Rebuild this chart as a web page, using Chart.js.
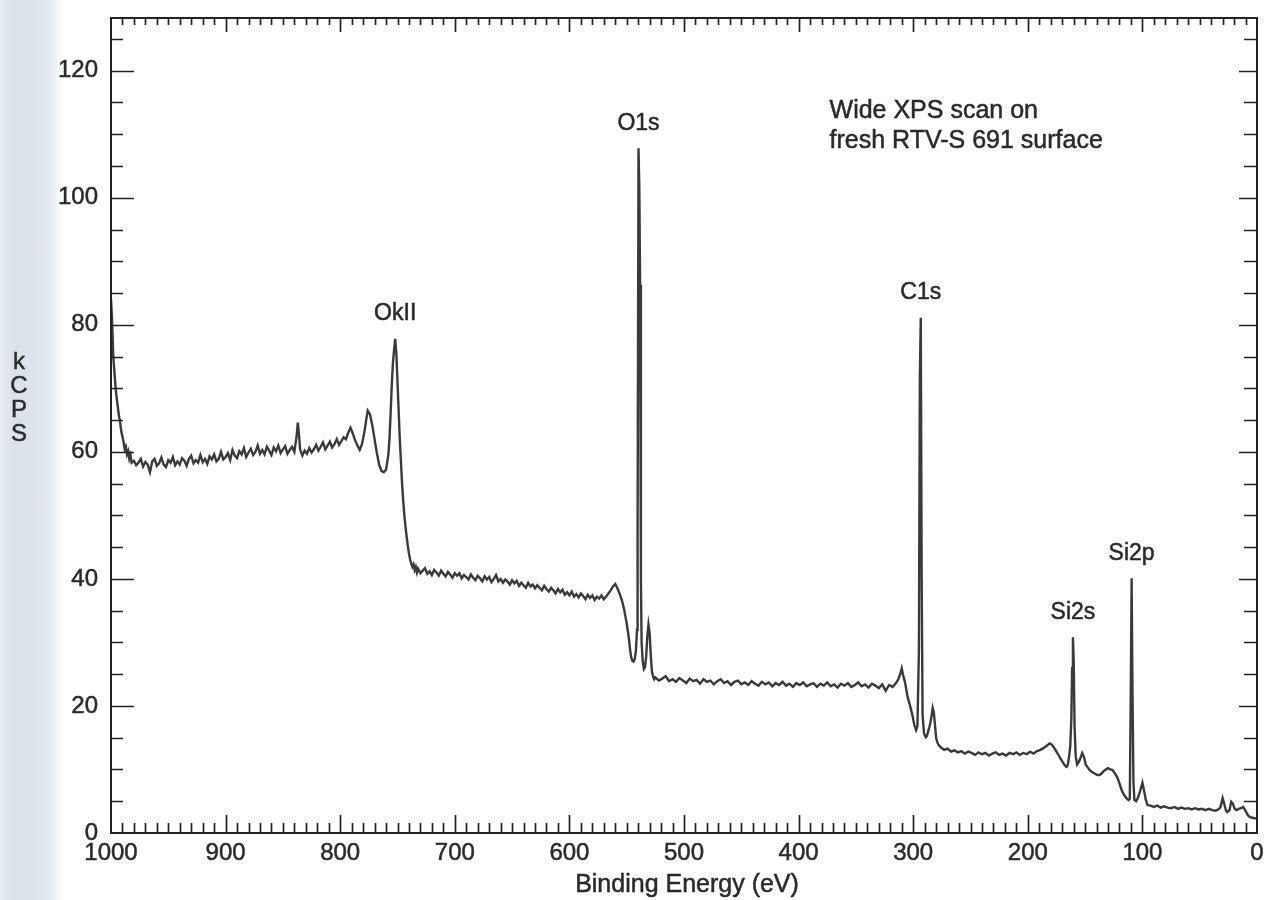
<!DOCTYPE html>
<html>
<head>
<meta charset="utf-8">
<title>Wide XPS scan – RTV-S 691</title>
<script src="https://cdn.jsdelivr.net/npm/chart.js@4.4.1/dist/chart.umd.min.js"></script>
<style>
  html, body { margin: 0; padding: 0; }
  body {
    width: 1269px;
    height: 900px;
    overflow: hidden;
    /* scanned page edge on the left */
    background: linear-gradient(to right, #e8ecf2 0px, #dbe1e9 14px, #e1e6ee 48px, #f6f7fa 58px, #ffffff 64px);
  }
  #wrap { position: relative; width: 1269px; height: 900px; }
</style>
</head>
<body>
<div id="wrap"><canvas id="xps" width="1269" height="900"></canvas></div>
<script>
// Wide XPS survey of a fresh RTV-S 691 surface: counts (kCPS) vs binding energy (eV).
// Points are [binding energy, kCPS]; sampled densely around the core-level peaks.

const highEnergyTail = [
  [1000, 84.0], [999, 80.5], [998, 75.0], [997, 72.5], [996, 70.2], [995, 68.4], [994, 67.0],
  [993, 65.6], [992, 64.6], [991, 63.2], [990, 62.4], [989, 61.5], [988, 60.4], [987, 60.8],
  [986, 59.6], [985, 60.1], [984, 58.9], [983, 59.5], [982, 58.3], [980, 58.6], [978, 57.9],
  [976, 58.3], [974, 58.9], [972, 57.7], [970, 58.4], [968, 58.0], [966, 56.8], [964, 58.5],
  [962, 58.9], [960, 57.8], [958, 58.2], [956, 59.1], [954, 58.0], [952, 57.6], [950, 58.7],
  [948, 58.3], [946, 59.2], [944, 57.9], [942, 58.5], [940, 58.0], [938, 59.0], [936, 58.6],
  [934, 57.8], [932, 58.9], [930, 59.4], [928, 58.2], [926, 58.7], [924, 58.3], [922, 59.5],
  [920, 58.4], [918, 58.9], [916, 58.1], [914, 59.3], [912, 58.8], [910, 59.6], [908, 58.5],
  [906, 58.9], [904, 60.0], [902, 58.8], [900, 59.2], [898, 59.8], [896, 58.7], [894, 60.3],
  [892, 59.4], [890, 59.0], [888, 60.1], [886, 59.6], [884, 60.6], [882, 59.2], [880, 59.9],
  [878, 60.5], [876, 59.5], [874, 60.0], [872, 61.0], [870, 59.7], [868, 60.3], [866, 59.6],
  [864, 60.8], [862, 60.2], [860, 59.5], [858, 60.7], [856, 60.1], [854, 61.0], [852, 59.8],
  [850, 60.4], [848, 60.9], [846, 59.7], [844, 60.3], [842, 60.8], [840, 60.0], [838, 62.5],
  [837, 64.6], [836, 62.8], [835, 60.4], [833, 59.4], [831, 60.2], [829, 59.7], [827, 60.6],
  [825, 59.9], [823, 60.4], [821, 61.1], [819, 60.2], [817, 60.8], [815, 61.5], [813, 60.4],
  [811, 61.0], [809, 61.6], [807, 60.7], [805, 61.2], [803, 62.0], [801, 61.1], [799, 61.7],
  [797, 62.3], [795, 62.0], [793, 63.0], [791, 63.8], [789, 62.9], [787, 61.8], [785, 61.0],
  [783, 60.3], [781, 61.2], [779, 63.0], [777, 65.4], [776, 66.5], [774, 65.9], [772, 64.2],
  [770, 62.0], [768, 59.8], [766, 58.0], [764, 57.0], [762, 56.8], [760, 57.2], [758, 59.5],
  [757, 62.0], [756, 66.0], [755, 70.5], [754, 74.0], [753, 76.0], [752, 77.8], [751, 75.5],
  [750, 71.0], [749, 66.5], [748, 62.0], [747, 58.5], [746, 55.0], [745, 52.2], [744, 50.0],
  [743, 48.2], [742, 46.6], [741, 45.2], [740, 44.0], [739, 43.1], [738, 42.4], [737, 41.9],
  [736, 42.3], [735, 41.4], [734, 41.9], [733, 41.0]
];

const midPlateau = [
  [732, 41.6], [730, 40.9], [728, 41.3], [726, 41.7], [724, 40.8], [722, 41.2], [720, 40.6],
  [718, 41.4], [716, 41.0], [714, 40.5], [712, 41.3], [710, 40.8], [708, 40.4], [706, 41.1],
  [704, 40.7], [702, 40.2], [700, 40.9], [698, 40.5], [696, 40.9], [694, 40.1], [692, 40.6],
  [690, 40.3], [688, 39.9], [686, 40.7], [684, 40.2], [682, 39.8], [680, 40.5], [678, 40.1],
  [676, 39.6], [674, 40.4], [672, 39.9], [670, 40.3], [668, 39.5], [666, 40.0], [664, 40.6],
  [662, 39.6], [660, 40.0], [658, 39.4], [656, 39.9], [654, 39.6], [652, 39.1], [650, 39.8],
  [648, 39.3], [646, 39.7], [644, 38.9], [642, 39.4], [640, 39.0], [638, 38.6], [636, 39.4],
  [634, 38.8], [632, 39.1], [630, 38.5], [628, 39.0], [626, 38.6], [624, 38.2], [622, 38.9],
  [620, 38.4], [618, 38.0], [616, 38.6], [614, 38.2], [612, 37.7], [610, 38.4], [608, 37.9],
  [606, 38.3], [604, 37.5], [602, 37.9], [600, 37.4], [598, 38.0], [596, 37.2], [594, 37.6],
  [592, 37.1], [590, 37.7], [588, 37.3], [586, 36.8], [584, 37.5], [582, 37.0], [580, 37.4],
  [578, 36.7], [576, 37.2], [574, 36.9], [572, 37.4], [570, 36.8], [568, 37.2], [566, 37.7],
  [564, 38.2], [562, 38.8], [560, 39.2], [558, 38.5], [556, 37.6], [554, 36.5], [552, 35.0],
  [550, 33.0], [548, 30.5], [547, 28.8], [546, 27.6], [545, 27.1], [544, 27.0], [543, 27.4],
  [542, 28.6], [541, 32.0], [540.5, 47.0], [539.7, 107.8], [539, 101.7], [538.3, 86.3],
  [537.6, 40.0], [537, 30.0], [536, 27.0], [535, 25.8], [534, 26.1], [533, 27.8], [532, 31.0],
  [531, 32.8], [530, 31.5], [529, 28.0], [528, 25.5], [527, 24.6], [526, 24.2]
];

const lowPlateau = [
  [525, 24.5], [522, 24.0], [519, 24.3], [516, 24.7], [513, 23.9], [510, 24.2], [507, 23.8],
  [504, 24.4], [501, 24.0], [498, 23.6], [495, 24.3], [492, 23.9], [489, 24.1], [486, 23.5],
  [483, 24.2], [480, 23.8], [477, 24.0], [474, 23.4], [471, 23.9], [468, 24.2], [465, 23.6],
  [462, 23.9], [459, 23.3], [456, 23.8], [453, 24.0], [450, 23.4], [447, 23.7], [444, 23.3],
  [441, 23.9], [438, 23.5], [435, 23.2], [432, 23.8], [429, 23.4], [426, 23.7], [423, 23.1],
  [420, 23.6], [417, 23.3], [414, 23.8], [411, 23.2], [408, 23.5], [405, 23.0], [402, 23.6],
  [399, 23.3], [396, 23.7], [393, 23.1], [390, 23.4], [387, 23.6], [384, 23.0], [381, 23.5],
  [378, 23.2], [375, 23.7], [372, 23.1], [369, 23.4], [366, 22.9], [363, 23.5], [360, 23.2],
  [357, 23.6], [354, 23.0], [351, 23.3], [348, 23.7], [345, 23.1], [342, 23.4], [339, 22.9],
  [336, 23.5], [333, 23.2], [330, 22.8], [327, 23.4], [324, 22.4], [321, 23.3], [318, 23.0],
  [315, 23.6], [313, 24.2], [311, 25.2], [310, 25.9], [309, 25.0], [307, 23.6], [305, 21.5],
  [303, 20.2], [301, 18.8], [299, 17.0], [297.5, 16.2], [296.3, 16.8], [295, 29.0],
  [294.2, 71.7], [293.4, 81.1], [292.6, 40.0], [291.8, 18.5], [290.5, 15.6], [289, 15.1],
  [288, 15.3], [287, 16.0], [286, 16.6], [285, 17.4], [284, 18.4], [283, 19.7], [282, 19.0],
  [281, 17.0], [280, 15.0], [279, 14.3], [278, 13.9], [277, 13.7]
];

const siliconRegion = [
  [276, 13.5], [273, 13.1], [270, 13.3], [267, 12.8], [264, 13.0], [261, 12.7], [258, 12.9],
  [255, 12.5], [252, 12.8], [249, 12.6], [246, 12.3], [243, 12.7], [240, 12.4], [237, 12.6],
  [234, 12.2], [231, 12.5], [228, 12.7], [225, 12.3], [222, 12.5], [219, 12.2], [216, 12.6],
  [213, 12.4], [210, 12.7], [207, 12.3], [204, 12.6], [201, 12.4], [198, 12.8], [195, 12.5],
  [192, 12.9], [189, 13.1], [186, 13.4], [183, 13.8], [181, 14.1], [179, 13.9], [177, 13.4],
  [175, 12.8], [173, 12.2], [171, 11.6], [169, 11.0], [167, 10.5], [166, 10.4], [165, 10.8],
  [164, 12.0], [163, 13.5], [162, 18.0], [161.3, 26.0], [160.6, 30.8], [159.9, 26.7],
  [159.2, 16.8], [158.2, 12.1], [157, 10.8], [155.5, 11.2], [154, 11.8], [152.5, 12.6],
  [151, 12.0], [149.5, 10.8], [148, 10.4], [146, 9.9], [144, 9.6], [142, 9.4], [140, 9.2],
  [138, 9.1], [136, 9.3], [134, 9.7], [132, 10.0], [130, 10.2], [128, 10.0], [126, 9.9],
  [124, 9.4], [122, 8.8], [120, 7.8], [118, 6.7], [116, 6.0], [114, 5.5], [112, 5.2],
  [111, 5.4], [110.2, 20.9], [109.4, 40.1], [108.6, 21.2], [107.8, 8.0], [107, 5.2],
  [105.5, 5.0], [104, 5.5], [102, 6.6], [100, 7.9], [98.5, 6.6], [97, 5.2], [95.5, 4.4],
  [93, 4.3], [90, 4.1], [87, 4.3], [84, 4.0], [81, 4.2], [78, 4.0], [75, 3.9], [72, 4.1],
  [69, 3.8], [66, 4.0], [63, 3.8], [60, 3.9], [57, 3.7], [54, 3.9], [51, 3.7], [48, 3.8],
  [45, 3.6], [42, 3.8], [39, 3.6], [36, 3.5], [34, 3.7], [32, 4.0], [30, 5.5], [28.5, 4.5],
  [27, 3.5], [26, 3.3], [24, 3.6], [22.5, 4.9], [21, 4.6], [19.5, 3.8], [18, 3.6], [16, 3.8],
  [14, 3.9], [12, 4.1], [10, 3.5], [8, 2.8], [6, 2.5], [4, 2.4], [2, 2.3], [0, 2.3]
];

const xTickValues = [1000, 900, 800, 700, 600, 500, 400, 300, 200, 100, 0];
const yTickValues = [0, 20, 40, 60, 80, 100, 120];

// peak assignments, placed over the matching point of the trace
const peakLabels = [
  { text: 'OkII', energy: 752 },
  { text: 'O1s', energy: 539.7 },
  { text: 'C1s', energy: 293.4 },
  { text: 'Si2s', energy: 160.6 },
  { text: 'Si2p', energy: 109.4 }
];

const noteLines = ['Wide XPS scan on', 'fresh RTV-S 691 surface'];
const xTitle = 'Binding Energy (eV)';
const yTitleLetters = ['k', 'C', 'P', 'S'];

const FONT = '"Liberation Sans", Arial, Helvetica, sans-serif';
const INK = '#2a2a2a';
const TRACE = '#3a3a3a';

const spectrum = [].concat(highEnergyTail, midPlateau, lowPlateau, siliconRegion)
  .map(([ev, kcps]) => ({ x: ev, y: kcps }));

function inkText(ctx, text, x, y) {
  ctx.fillText(text, x, y);
  ctx.strokeText(text, x, y);
}

// Boxed frame with inward ticks on all four sides, plus titles and annotations.
const framePlugin = {
  id: 'frameAndNotes',
  afterDatasetsDraw(chart) {
    const { ctx, chartArea: a, scales: { x, y } } = chart;
    ctx.save();
    ctx.strokeStyle = '#222';
    ctx.lineWidth = 2;
    ctx.strokeRect(a.left, a.top, a.right - a.left, a.bottom - a.top);

    ctx.lineWidth = 1.7;
    ctx.beginPath();
    for (let ev = 10; ev < 1000; ev += 10) {
      const px = Math.round(x.getPixelForValue(ev)) + 0.5;
      const major = ev % 100 === 0;
      ctx.moveTo(px, a.bottom);
      ctx.lineTo(px, a.bottom - (major ? 18 : 10));
      ctx.moveTo(px, a.top);
      ctx.lineTo(px, a.top + (major ? 14 : 7));
    }
    for (let v = 5; v <= 125; v += 5) {
      const py = Math.round(y.getPixelForValue(v)) + 0.5;
      const major = v % 20 === 0;
      ctx.moveTo(a.left, py);
      ctx.lineTo(a.left + (major ? 23 : 12), py);
      ctx.moveTo(a.right, py);
      ctx.lineTo(a.right - (major ? 18 : 13), py);
    }
    ctx.stroke();

    ctx.fillStyle = INK;
    ctx.strokeStyle = INK;
    ctx.lineWidth = 0.5;

    ctx.textAlign = 'center';
    ctx.textBaseline = 'middle';
    ctx.font = `23px ${FONT}`;
    peakLabels.forEach(({ text, energy }) => {
      const pt = spectrum.find(p => p.x === energy);
      inkText(ctx, text, x.getPixelForValue(energy), y.getPixelForValue(pt.y) - 25);
    });

    ctx.textAlign = 'left';
    ctx.textBaseline = 'alphabetic';
    ctx.font = `25px ${FONT}`;
    noteLines.forEach((line, i) => {
      inkText(ctx, line, x.getPixelForValue(373), a.top + 100 + i * 30);
    });

    ctx.textAlign = 'center';
    inkText(ctx, xTitle, (a.left + a.right) / 2 + 3, 892);

    ctx.textBaseline = 'middle';
    ctx.font = `24px ${FONT}`;
    yTitleLetters.forEach((ch, i) => {
      inkText(ctx, ch, 19, 362 + i * 24);
    });
    ctx.restore();
  }
};

new Chart(document.getElementById('xps'), {
  type: 'line',
  data: {
    datasets: [{
      data: spectrum,
      borderColor: TRACE,
      borderWidth: 2.4,
      pointRadius: 0,
      tension: 0,
      fill: false
    }]
  },
  options: {
    responsive: false,
    animation: false,
    devicePixelRatio: 1,
    layout: { padding: { top: 18, right: 12, left: 0, bottom: 0 } },
    plugins: { legend: { display: false }, tooltip: { enabled: false } },
    scales: {
      x: {
        type: 'linear',
        reverse: true,
        min: 0,
        max: 1000,
        afterBuildTicks: (s) => { s.ticks = xTickValues.map(v => ({ value: v })); },
        afterFit: (s) => { s.height = 67; s.paddingLeft = 0; s.paddingRight = 0; },
        grid: { display: false, drawTicks: false },
        border: { display: false },
        ticks: {
          padding: 6,
          autoSkip: false,
          maxRotation: 0,
          color: INK,
          textStrokeColor: INK,
          textStrokeWidth: 0.5,
          font: { family: FONT, size: 24 },
          callback: (v) => String(v)
        }
      },
      y: {
        min: 0,
        max: 128.3,
        afterBuildTicks: (s) => { s.ticks = yTickValues.map(v => ({ value: v })); },
        afterFit: (s) => { s.width = 111; s.paddingTop = 0; s.paddingBottom = 0; },
        grid: { display: false, drawTicks: false },
        border: { display: false },
        ticks: {
          padding: 13,
          color: INK,
          textStrokeColor: INK,
          textStrokeWidth: 0.5,
          font: { family: FONT, size: 24 },
          callback: (v) => String(v)
        }
      }
    }
  },
  plugins: [framePlugin]
});
</script>
</body>
</html>
